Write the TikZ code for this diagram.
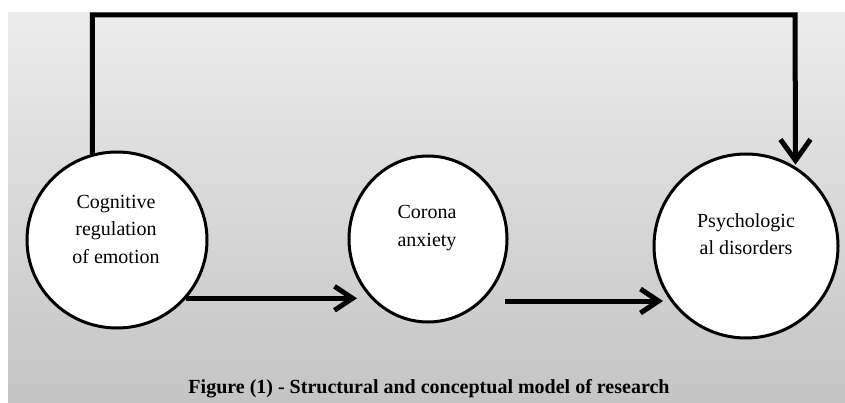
\documentclass[tikz,border=0pt]{standalone}
\usepackage{fontspec}
\setmainfont{Liberation Serif}
\usetikzlibrary{shapes.geometric,arrows.meta}
\definecolor{bgtop}{RGB}{236,236,236}
\definecolor{bgbot}{RGB}{196,196,196}
\begin{document}
\begin{tikzpicture}[x=1pt,y=-1pt,
  bubble/.style={ellipse,draw=black,line width=3pt,fill=white,inner sep=0pt},
  lbl/.style={align=center,font=\fontsize{20}{27.5}\selectfont,inner sep=0pt},
  link/.style={line width=5pt,line join=miter},
  arr/.style={link,-{Straight Barb[length=18pt,width=24pt]}},
  arrv/.style={link,-{Straight Barb[length=21pt,width=30pt]}}]
\useasboundingbox (0,0) rectangle (845,403);
\fill[white] (0,0) rectangle (845,403);
\shade[top color=bgtop,bottom color=bgbot] (8,13) rectangle (845,403);
% circles
\node[bubble,minimum width=180pt,minimum height=176pt] (c1) at (117,240) {};
\node[bubble,minimum width=158pt,minimum height=166pt] (c2) at (428,239) {};
\node[bubble,minimum width=184pt,minimum height=184pt] (c3) at (746,246) {};
% labels
\node[lbl] (t1) at (116,229) {Cognitive\\regulation\\of emotion};
\node[lbl] (t2) at (427,228) {Corona\\anxiety};
\node[lbl] (t3) at (746,234) {Psychologic\\al disorders};
% connectors
\coordinate (tl) at (93,15);
\coordinate (tr) at (795,15);
\draw[arrv,shorten >=2pt] (c1.106) -- (c1.106 |- tl) -- (tr) -- (c3.58);
\coordinate (e1) at (357,301);
\coordinate (s2) at (505,301);
\coordinate (e2) at (663,301);
\draw[arr] (c1.-40) -- (c1.-40 -| e1);
\draw[arr] (s2) -- (e2);
% caption
\node[font=\bfseries\fontsize{20}{22}\selectfont,inner sep=0pt] (cap) at (429,389) {Figure (1) - Structural and conceptual model of research};
\end{tikzpicture}
\end{document}
